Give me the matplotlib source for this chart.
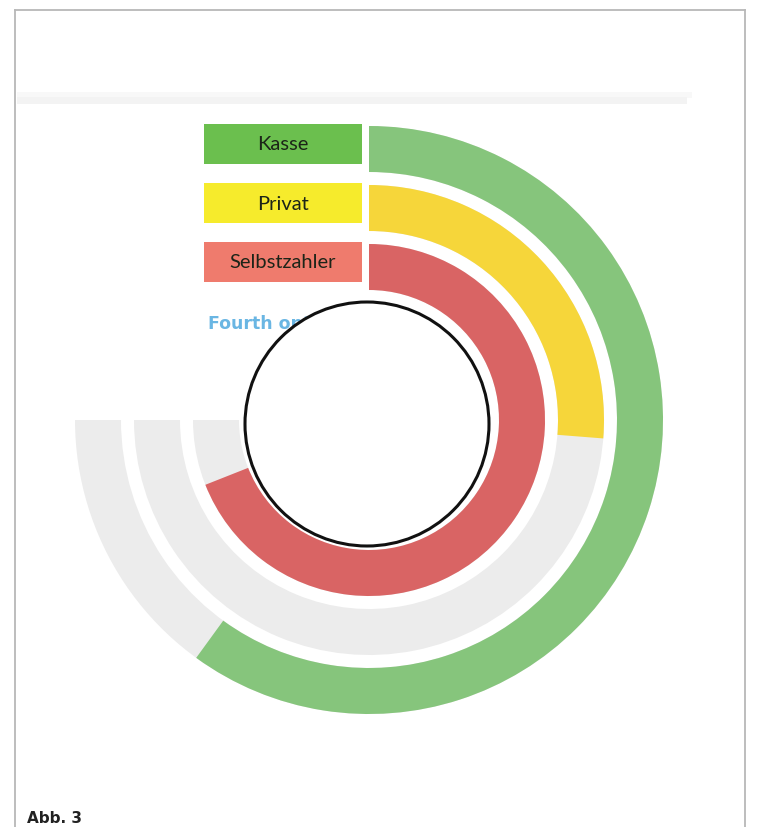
import numpy as np
import matplotlib.pyplot as plt
from matplotlib.patches import Rectangle, Circle

# data: share of the full 270 degree track per category (in %)
categories = ['Kasse', 'Privat', 'Selbstzahler']
values = [80, 35, 92]
track_max = 100
ring_colors = ['#86c57c', '#f6d63a', '#d96464']
box_colors = ['#6bbf4e', '#f6eb2c', '#ef7b6d']
hidden_label = 'Fourth option'
caption = 'Abb. 3'

W, H = 757, 827
cx, cy = 369, 420          # ring centre in pixels
R = 300                    # polar axes radius in pixels
sweep = np.deg2rad(270)
inner = [248, 189, 130]    # inner radius of each ring
band = 46

fig = plt.figure(figsize=(W / 100, H / 100), dpi=100)

ax = fig.add_axes([(cx - R) / W, (H - cy - R) / H, 2 * R / W, 2 * R / H], projection='polar')
ax.set_theta_zero_location('N')
ax.set_theta_direction(-1)
ax.set_ylim(0, R)
ax.set_axis_off()

for v, r0, c in zip(values, inner, ring_colors):
    # grey track
    ax.bar(0, band, width=sweep, bottom=r0, color='#ececec', align='edge', lw=0)
    # value
    ax.bar(0, band, width=sweep * v / track_max, bottom=r0, color=c, align='edge', lw=0)

# overlay in pixel coords
ov = fig.add_axes([0, 0, 1, 1])
ov.set_xlim(0, W)
ov.set_ylim(H, 0)
ov.axis('off')
ov.set_zorder(2)

# page frame
ov.plot([15, 15], [10, H], color='#b8b8b8', lw=1.3)
ov.plot([15, 745], [10, 10], color='#b8b8b8', lw=1.3)
ov.plot([745, 745], [10, H], color='#b8b8b8', lw=1.3)
# faint shadow band
ov.add_patch(Rectangle((17, 92), 675, 6, fc='#f8f8f8', ec='none'))
ov.add_patch(Rectangle((17, 97), 670, 7, fc='#f3f3f3', ec='none'))

# category labels at the ring starts
for lab, r0, c in zip(categories, inner, box_colors):
    ym = cy - (r0 + band / 2) - 5
    ov.add_patch(Rectangle((204, ym - 20), 158, 40, fc=c, ec='none'))
    ov.text(283, ym + 1, lab, ha='center', va='center', fontsize=14.5,
            family='Lato', color='#1c2418')

ov.text(208, 324, hidden_label, color='#5aaee0', fontsize=12.5, weight='bold',
        va='center', alpha=0.9)

ov.add_patch(Circle((367, 424), 122, fc='white', ec='#111111', lw=2.2, zorder=5))

ov.text(27, 826, caption, ha='left', va='bottom', fontsize=11, weight='bold',
        family=['Liberation Sans Narrow', 'DejaVu Sans'], color='#222222')

fig.savefig('out.png', dpi=100)
